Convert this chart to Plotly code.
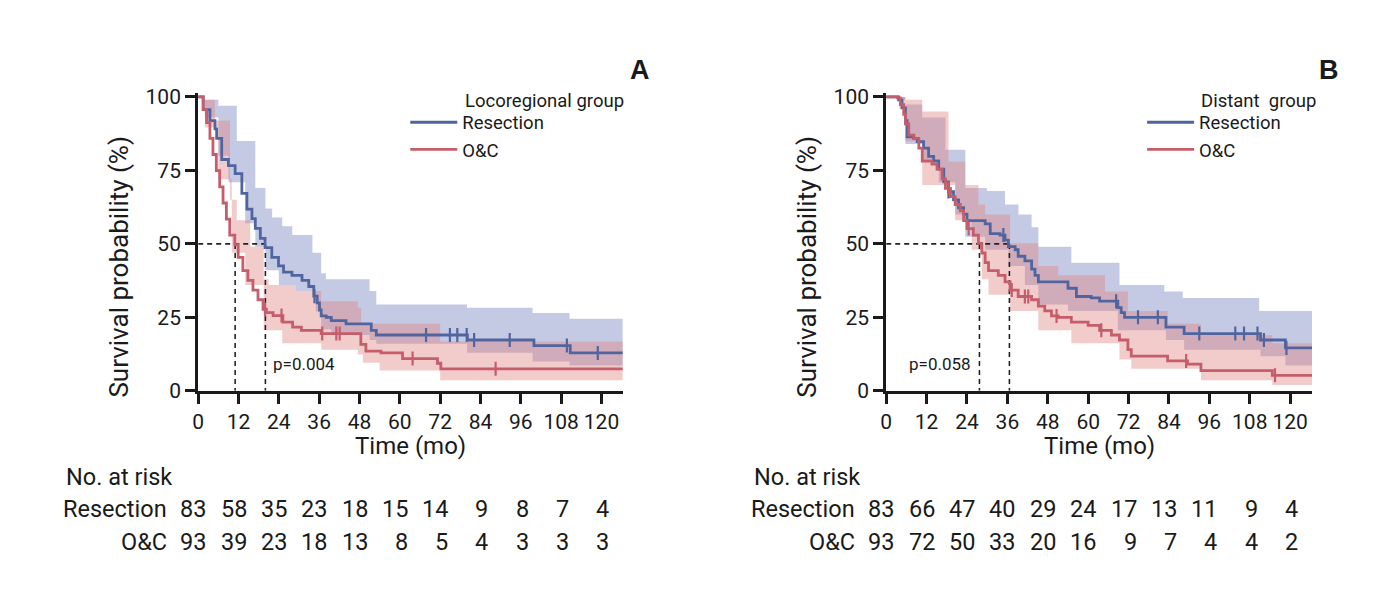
import numpy as np
import plotly.graph_objects as go

# ---------------- DATA ----------------
# Panel A: Locoregional group
a_res_t = [0, 1.5, 3.5, 5.0, 5.5, 7.0, 9.0, 11.0, 13.0, 14.5, 16.0, 17.0, 18.5, 19.9, 21.9, 23.9, 25.4, 27.9,
           30.9, 32.9, 34.4, 35.4, 36.1, 36.6, 38.1, 39.6, 44.0, 51.5, 53.0, 80.1, 99.9, 110.7, 126.3]
a_res_s = [100, 95.7, 91.9, 89.1, 85.9, 78.7, 76.6, 73.9, 67.2, 61.8, 58.6, 55.3, 51.9, 48.7, 45.4, 42.5, 40.4, 39.3,
           37.6, 35.5, 32.2, 29.9, 27.5, 25.5, 25.0, 23.9, 22.8, 20.6, 19.0, 17.3, 15.4, 12.9, 12.9]
a_res_up_t = [0, 2, 6.0, 11.5, 17, 20, 22, 25, 28, 34, 36.6, 38, 51, 53, 80, 99.5, 110.5, 126.3]
a_res_up_s = [100, 99, 97, 85, 69, 62, 59, 56, 53, 47, 40, 38, 34, 29.4, 28.3, 26.5, 24.5, 24.5]
a_res_lo_t = [0, 2, 6, 9, 14, 17, 20, 24, 29, 35, 36.6, 39.6, 51, 53, 80, 99.5, 110.5, 126.3]
a_res_lo_s = [100, 93, 80, 71, 57, 49, 41, 36, 34, 27, 21, 19, 17.3, 16, 13, 10, 8.6, 8.6]
a_res_cens = [34.6, 67.8, 74.9, 77.1, 79.9, 82.1, 92.7, 109.7, 118.9]

a_oc_t = [0, 1.5, 2.5, 3.5, 4.4, 5.4, 6.4, 7.4, 8.4, 9.4, 10.9, 11.9, 13.3, 14.8, 16.3, 17.8, 19.3, 20.3, 22.3,
          25.2, 28.1, 30.7, 36.6, 48.4, 49.9, 54.4, 60.8, 71.2, 72.2, 126.3]
a_oc_s = [100, 95.7, 91.3, 85.9, 80.4, 74.9, 69.4, 63.9, 58.4, 53.0, 49.7, 45.4, 40.9, 37.6, 34.3, 31.0, 27.7, 26.6, 25.6,
          23.4, 21.7, 20.6, 19.5, 15.8, 13.5, 12.9, 11.0, 9.4, 7.5, 7.5]
a_oc_up_t = [0, 2, 5, 9.5, 11.5, 15.5, 19.5, 21, 29, 36.6, 47.5, 48.5, 72, 126.3]
a_oc_up_s = [100, 99, 92, 65, 58, 49, 38, 36, 34, 30.5, 28.3, 22.8, 16.8, 16.8]
a_oc_lo_t = [0, 2, 6, 10, 14, 19.5, 25, 36.6, 47.5, 49, 54, 72, 126.3]
a_oc_lo_s = [100, 89.7, 72, 47, 36, 20.6, 16.2, 14, 12.4, 9.6, 6.9, 3.6, 3.6]
a_oc_cens = [19.9, 24.8, 36.9, 41.1, 42.1, 63.8, 88.5]

a_medians = [11.0, 20.0]   # O&C, Resection
a_pval = "p=0.004"
a_risk_res = [83, 58, 35, 23, 18, 15, 14, 9, 8, 7, 4]
a_risk_oc = [93, 39, 23, 18, 13, 8, 5, 4, 3, 3, 3]

# Panel B: Distant group
b_res_t = [0, 3.7, 4.7, 5.7, 6.2, 8.2, 9.2, 11.1, 12.6, 14.1, 15.6, 17.1, 18.5, 20.0, 21.5, 23.0, 24.0, 29.4, 30.9,
           33.8, 35.3, 36.3, 38.3, 39.2, 41.2, 43.2, 44.2, 45.2, 54.0, 56.5, 60.9, 63.4, 68.8, 69.8, 70.8, 83.1,
           88.5, 111.2, 118.6, 126.5]
b_res_s = [100, 99, 96.3, 91.9, 86.4, 85.9, 84.8, 82.6, 79.8, 78.2, 75.4, 71.1, 67.8, 65.0, 62.3, 60.1, 57.9, 56.8, 53.5,
           53.0, 51.3, 49.1, 48.0, 45.8, 44.2, 41.4, 39.3, 37.1, 34.9, 32.1, 31.6, 30.5, 28.3, 26.6, 25.0, 21.7,
           19.5, 17.3, 14.6, 14.6]
b_res_up_t = [0, 4, 5.7, 10.7, 17.6, 23.5, 29.9, 35.3, 39.3, 43.2, 45.2, 55.0, 69.3, 82.6, 88.1, 110.8, 126.5]
b_res_up_s = [100, 100, 97.4, 93, 82, 69, 68, 63.4, 60, 55.7, 49, 43.6, 36, 33.8, 31.6, 27.2, 27.2]
b_res_lo_t = [0, 4, 5.7, 10.7, 15.6, 20.5, 23.5, 29.4, 36.3, 41.2, 45.2, 54.0, 68.8, 83.1, 88.5, 111.2, 118.6, 126.5]
b_res_lo_s = [100, 99, 84, 78.7, 71, 60, 52.4, 48, 42.5, 36, 29.4, 27.2, 20.6, 17.3, 14, 11.8, 8.6, 8.6]
b_res_cens = [18.5, 34.8, 68.3, 74.8, 80.7, 93.0, 103.7, 106.3, 110.3, 112.2, 118.9]

b_oc_t = [0, 3.3, 4.2, 5.2, 5.7, 6.7, 8.2, 9.7, 10.7, 13.6, 15.1, 16.6, 17.6, 19.1, 20.5, 22.0, 23.0, 24.0, 25.9,
          27.4, 28.4, 29.4, 30.4, 33.3, 35.3, 36.8, 39.2, 43.2, 45.2, 47.1, 49.1, 51.1, 55.0, 60.0, 63.4, 66.9,
          69.3, 71.8, 72.8, 83.6, 89.5, 93.5, 114.7, 126.5]
b_oc_s = [100, 99.7, 97.4, 94.1, 90.8, 87.0, 85.9, 82.6, 78.2, 77.1, 75.4, 72.1, 68.9, 66.1, 63.4, 61.2, 57.9, 55.2, 53.0,
          50.2, 46.9, 43.6, 40.9, 39.3, 37.1, 34.3, 32.1, 31.0, 28.8, 27.2, 25.5, 25.0, 23.4, 22.3, 20.6, 19.0,
          17.3, 14.0, 11.8, 10.2, 9.1, 6.9, 5.3, 5.3]
b_oc_up_t = [0, 4, 5.7, 10.7, 18.5, 23.5, 27.4, 29.4, 36.8, 45.2, 51.1, 65, 71.8, 83.6, 93.5, 114.7, 126.5]
b_oc_up_s = [100, 100, 99, 95, 78, 70, 63.4, 60, 50.2, 42.5, 39.3, 33.8, 27.2, 22.8, 19, 16.2, 16.2]
b_oc_lo_t = [0, 4, 5.7, 10.7, 20.5, 25.4, 28.4, 30.4, 36.8, 45.2, 55, 69.3, 72.8, 93.5, 114.7, 126.5]
b_oc_lo_s = [100, 96, 84.8, 70, 58, 48, 38, 32.7, 27.2, 20.6, 16.2, 10.7, 7.5, 3.6, 2, 2]
b_oc_cens = [18.5, 24.5, 37.3, 41.2, 42.2, 50.6, 63.9, 89.1, 115.5]

b_medians = [27.7, 36.6]
b_pval = "p=0.058"
b_risk_res = [83, 66, 47, 40, 29, 24, 17, 13, 11, 9, 4]
b_risk_oc = [93, 72, 50, 33, 20, 16, 9, 7, 4, 4, 2]

risk_times = [0, 12, 24, 36, 48, 60, 72, 84, 96, 108, 120]
x_ticks = [0, 12, 24, 36, 48, 60, 72, 84, 96, 108, 120]
y_ticks = [0, 25, 50, 75, 100]
group_names = ["Locoregional group", "Distant  group"]
series_names = ["Resection", "O&C"]
panel_labels = ["A", "B"]

# ---------------- STYLE ----------------
W, H = 1397, 603
FONT = "Roboto, Liberation Sans, sans-serif"
INK = "#1a1a1a"
BLUE = "#50659f"
RED = "#c55d6b"
BLUE_BAND = "rgba(150,158,205,0.55)"
RED_BAND = "rgba(225,130,130,0.42)"


def py(p):
    return 1 - p / H


def step_at(ts, ss, t):
    i = np.searchsorted(np.asarray(ts), t, side="right") - 1
    return float(np.asarray(ss)[i])


fig = go.Figure()

panels = [
    dict(ax="x", ay="y", res=(a_res_t, a_res_s, a_res_up_t, a_res_up_s, a_res_lo_t, a_res_lo_s, a_res_cens),
         oc=(a_oc_t, a_oc_s, a_oc_up_t, a_oc_up_s, a_oc_lo_t, a_oc_lo_s, a_oc_cens),
         med=a_medians, pval=a_pval, pval_x=21.6, rr=a_risk_res, ro=a_risk_oc, legend="legend",
         dom=(193, 620), group=group_names[0], gx=459, label=panel_labels[0]),
    dict(ax="x2", ay="y2", res=(b_res_t, b_res_s, b_res_up_t, b_res_up_s, b_res_lo_t, b_res_lo_s, b_res_cens),
         oc=(b_oc_t, b_oc_s, b_oc_up_t, b_oc_up_s, b_oc_lo_t, b_oc_lo_s, b_oc_cens),
         med=b_medians, pval=b_pval, pval_x=6.2, rr=b_risk_res, ro=b_risk_oc, legend="legend2",
         dom=(884, 1312), group=group_names[1], gx=1198, label=panel_labels[1]),
]

for p in panels:
    xa, ya = p["ax"], p["ay"]
    # confidence bands: blue first, red on top
    for data, band in ((p["res"], BLUE_BAND), (p["oc"], RED_BAND)):
        t, s, ut, us, lt, ls, c = data
        fig.add_trace(go.Scatter(x=ut, y=us, mode="lines", line=dict(width=0, shape="hv"),
                                 hoverinfo="skip", showlegend=False, xaxis=xa, yaxis=ya))
        fig.add_trace(go.Scatter(x=lt, y=ls, mode="lines", line=dict(width=0, shape="hv"),
                                 fill="tonexty", fillcolor=band,
                                 hoverinfo="skip", showlegend=False, xaxis=xa, yaxis=ya))
    # median dashed lines
    med_oc, med_res = p["med"]
    fig.add_trace(go.Scatter(x=[0, med_res], y=[50, 50], mode="lines",
                             line=dict(color="#222", width=1.6, dash="5px,4px"),
                             hoverinfo="skip", showlegend=False, xaxis=xa, yaxis=ya))
    for m in (med_oc, med_res):
        fig.add_trace(go.Scatter(x=[m, m], y=[50, 0], mode="lines",
                                 line=dict(color="#222", width=1.6, dash="5px,4px"),
                                 hoverinfo="skip", showlegend=False, xaxis=xa, yaxis=ya))
    # survival curves + censor ticks
    for data, col, name in ((p["res"], BLUE, series_names[0]), (p["oc"], RED, series_names[1])):
        t, s, ut, us, lt, ls, c = data
        fig.add_trace(go.Scatter(x=t, y=s, mode="lines", line=dict(color=col, width=2.8, shape="hv"),
                                 name=name, legend=p["legend"], xaxis=xa, yaxis=ya))
        fig.add_trace(go.Scatter(x=c, y=[step_at(t, s, v) for v in c], mode="markers",
                                 marker=dict(symbol="line-ns", size=10, line=dict(color=col, width=2.2)),
                                 hoverinfo="skip", showlegend=False, xaxis=xa, yaxis=ya))

annotations = []
for p in panels:
    x0, x1 = p["dom"]
    xref = p["ax"]
    cx = (x0 + x1) / 2
    annotations += [
        dict(text=p["group"], x=p["gx"] / W, y=py(96), xref="paper", yref="paper",
             xanchor="left", yanchor="middle", showarrow=False, font=dict(size=18.5, family=FONT, color=INK)),
        dict(text="<b>%s</b>" % p["label"], x=(x1 + 17) / W, y=py(64), xref="paper", yref="paper",
             xanchor="center", yanchor="middle", showarrow=False,
             font=dict(size=27, family="Liberation Sans, Arial, sans-serif", color=INK)),
        dict(text="Survival probability (%)", x=(x0 - 79) / W, y=py(268), xref="paper", yref="paper",
             xanchor="center", yanchor="middle", textangle=-90, showarrow=False,
             font=dict(size=26, family=FONT, color=INK)),
        dict(text="Time (mo)", x=cx / W, y=py(453), xref="paper", yref="paper",
             xanchor="center", yanchor="middle", showarrow=False, font=dict(size=24, family=FONT, color=INK)),
        dict(text=p["pval"], x=p["pval_x"], y=9.3, xref=xref, yref=p["ay"],
             xanchor="left", yanchor="middle", showarrow=False, font=dict(size=17, family=FONT, color=INK)),
        dict(text="No. at risk", x=(x0 - 135) / W, y=py(485), xref="paper", yref="paper",
             xanchor="left", yanchor="middle", showarrow=False, font=dict(size=23.5, family=FONT, color=INK)),
        dict(text=series_names[0], x=(x0 - 29) / W, y=py(518), xref="paper", yref="paper",
             xanchor="right", yanchor="middle", showarrow=False, font=dict(size=23.5, family=FONT, color=INK)),
        dict(text=series_names[1], x=(x0 - 29) / W, y=py(552), xref="paper", yref="paper",
             xanchor="right", yanchor="middle", showarrow=False, font=dict(size=23.5, family=FONT, color=INK)),
    ]
    for t, nr, no in zip(risk_times, p["rr"], p["ro"]):
        annotations.append(dict(text=str(nr), x=t, xshift=10, y=py(518), xref=xref, yref="paper",
                                xanchor="right", yanchor="middle", showarrow=False,
                                font=dict(size=23.5, family=FONT, color=INK)))
        annotations.append(dict(text=str(no), x=t, xshift=10, y=py(552), xref=xref, yref="paper",
                                xanchor="right", yanchor="middle", showarrow=False,
                                font=dict(size=23.5, family=FONT, color=INK)))

axis_common = dict(showline=True, linecolor=INK, linewidth=3, ticks="outside", ticklen=10, tickwidth=2.5,
                   tickcolor=INK, showgrid=False, zeroline=False,
                   tickfont=dict(size=21, family=FONT, color=INK))

legend_common = dict(xanchor="left", yanchor="top", bgcolor="rgba(0,0,0,0)", traceorder="normal",
                     font=dict(size=18.5, family=FONT, color=INK), itemwidth=47, tracegroupgap=0)

fig.update_layout(
    width=W, height=H, margin=dict(l=0, r=0, t=0, b=0),
    paper_bgcolor="white", plot_bgcolor="white",
    annotations=annotations,
    xaxis=dict(domain=[193 / W, 620 / W], range=[0, 126.5], tickvals=x_ticks, anchor="y", **axis_common),
    yaxis=dict(domain=[py(396), py(88)], range=[0, 101.3], tickvals=y_ticks, anchor="x", **axis_common),
    xaxis2=dict(domain=[884 / W, 1312 / W], range=[0, 126.6], tickvals=x_ticks, anchor="y2", **axis_common),
    yaxis2=dict(domain=[py(396), py(88)], range=[0, 101.3], tickvals=y_ticks, anchor="x2", **axis_common),
    legend=dict(x=401 / W, y=py(99), **legend_common),
    legend2=dict(x=1141 / W, y=py(99), **legend_common),
    showlegend=True,
)

fig.write_html("out.html")
